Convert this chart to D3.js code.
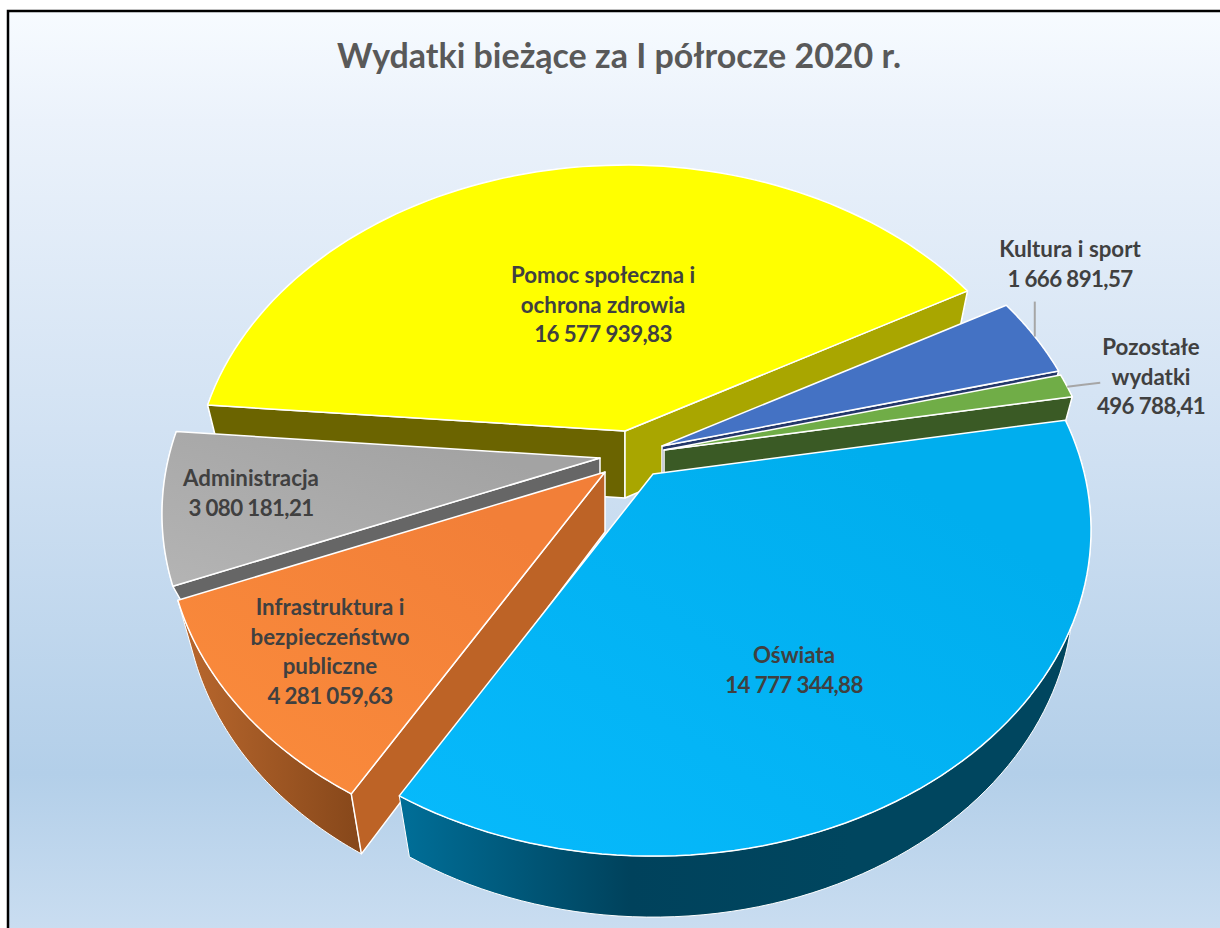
<!DOCTYPE html>
<html lang="pl">
<head>
<meta charset="utf-8">
<title>Wydatki bieżące za I półrocze 2020 r.</title>
<script src="https://cdn.jsdelivr.net/npm/d3@7"></script>
<style>
  html, body { margin: 0; padding: 0; background: #fff; }
  svg { display: block; }
  text { font-family: Lato, "Open Sans", sans-serif; font-weight: 700; text-anchor: middle; }
</style>
</head>
<body>
<svg id="chart" width="1220" height="928"></svg>
<script>
// Data, clockwise from the right-hand edge of "Oświata"
const categories = ["Oświata", "Infrastruktura i bezpieczeństwo publiczne", "Administracja",
    "Pomoc społeczna i ochrona zdrowia", "Kultura i sport", "Pozostałe wydatki"];
const values = [14777344.88, 4281059.63, 3080181.21, 16577939.83, 1666891.57, 496788.41];
const labelLines = [["Oświata"], ["Infrastruktura i", "bezpieczeństwo", "publiczne"], ["Administracja"],
    ["Pomoc społeczna i", "ochrona zdrowia"], ["Kultura i sport"], ["Pozostałe", "wydatki"]];

// Colours per slice: top face gradient, cut walls, outer wall gradient
const topColors = [["#07bafc", "#00aeee"], ["#fb8c3c", "#f27f38"], ["#b4b4b4", "#a3a3a3"],
    ["#ffff00", "#ffff00"], ["#4472c4", "#4472c4"], ["#70ad47", "#70ad47"]];
const startWallColors = ["#006a90", "#bd6326", "#666666", "#6b6400", "#2b4278", "#3a5a25"];
const endWallColors = ["#006a90", "#bd6326", "#666666", "#a9a600", "#24386a", "#3a5a25"];
const outerWallColors = [["#006d96", "#00425c", "#00465f", "#00465f"], ["#b5652c", "#86471a"], ["#666666", "#666666"],
    ["#6b6400", "#a9a600"], ["#2b4278", "#2b4278"], ["#3a5a25", "#3a5a25"]];

// Layout of the exploded pie: pull of each slice from the pie centre, its size and thickness
const pieCenter = { x: 628, y: 452 };
const pullX = [25, -23, -28, -3, 34, 36];
const pullY = [22, 20, 6, -21, -6, -2];
const sliceScale = [1, 1, 1, 0.985, 0.99, 0.99];
const sliceDepth = [61, 60, 30, 67, 60, 60];
const drawOrder = [3, 4, 5, 2, 1, 0]; // back to front
const labelX = [794, 330, 251, 603, 1070, 1151];
const labelY = [663, 615, 486, 283, 257, 355];
const lineHeight = 29.5;

// Perspective of the pie plane (apex at the origin, y down)
const persp = -0.172, scaleA = 431.5, scaleB = 316.4, bottomShrink = 0.96;
const startDeg = 79.9; // d3 angle of the first slice

const svg = d3.select("#chart");
const defs = svg.append("defs");
const formatValue = d3.formatLocale({ decimal: ",", thousands: " ", grouping: [3], currency: ["", ""] }).format(",.2f");

const bg = defs.append("linearGradient").attr("id", "bg").attr("x1", 0).attr("x2", 0).attr("y1", 0).attr("y2", 1);
bg.selectAll("stop").data([[0, "#f7fbff"], [0.12, "#ebf2fb"], [0.45, "#d2e2f3"], [0.82, "#b3cfe9"], [1, "#cbdef1"]])
    .join("stop").attr("offset", d => d[0]).attr("stop-color", d => d[1]);

const pie = d3.pie().sort(null)
    .startAngle(startDeg * Math.PI / 180)
    .endAngle((startDeg + 360) * Math.PI / 180);
const arcs = pie(values);
const line = d3.line();

/** Projects a rim point at d3 angle `a` of slice `i`; `low` moves it to the bottom face. */
function rim(i, a, low) {
    const X = Math.sin(a), Y = -Math.cos(a);
    const w = 1 + persp * Y, s = sliceScale[i];
    const px = pieCenter.x + pullX[i], py = pieCenter.y + pullY[i];
    const x = s * scaleA * X / w, y = s * scaleB * Y / w;
    return low ? [px + x * bottomShrink, py + sliceDepth[i] + y] : [px + x, py + y];
}
function apex(i, low) {
    return [pieCenter.x + pullX[i], pieCenter.y + pullY[i] + (low ? sliceDepth[i] : 0)];
}
function rimPoints(i, low) {
    const d = arcs[i], n = 80;
    return d3.range(n + 1).map(k => rim(i, d.startAngle + (d.endAngle - d.startAngle) * k / n, low));
}
function addStops(grad, colors) {
    grad.selectAll("stop").data(colors).join("stop")
        .attr("offset", (c, k) => k / (colors.length - 1)).attr("stop-color", c => c);
}

// Background and frame
svg.append("rect").attr("x", 8).attr("y", 11).attr("width", 1230).attr("height", 930)
    .attr("fill", "url(#bg)").attr("stroke", "#000").attr("stroke-width", 2.5);

// Title
svg.append("text").attr("x", 619).attr("y", 68).attr("fill", "#595959").attr("font-size", 34)
    .text("Wydatki bieżące za I półrocze 2020 r.");

// Slices
drawOrder.forEach(i => {
    const g = svg.append("g").attr("class", "slice").attr("data-name", categories[i]);
    const d = arcs[i];
    const outline = p => g.append("path").attr("d", line(p) + "Z")
        .attr("stroke", "#fff").attr("stroke-linejoin", "round");

    const pts = rimPoints(i, true);
    const xs = d3.extent(pts, p => p[0]);
    const wallGrad = defs.append("linearGradient").attr("id", "outer-" + i).attr("gradientUnits", "userSpaceOnUse")
        .attr("x1", xs[0]).attr("x2", xs[1]).attr("y1", 0).attr("y2", 0);
    addStops(wallGrad, outerWallColors[i]);
    const topGrad = defs.append("linearGradient").attr("id", "top-" + i)
        .attr("x1", 0).attr("y1", 1).attr("x2", 0.8).attr("y2", 0.2);
    addStops(topGrad, topColors[i]);

    outline(rimPoints(i, false).concat(pts.slice().reverse()))
        .attr("fill", `url(#outer-${i})`).attr("stroke-width", 1);

    // cut faces, only the ones that face the viewer
    const startTop = rim(i, d.startAngle, false), endTop = rim(i, d.endAngle, false);
    if (startTop[0] < apex(i)[0]) {
        outline([apex(i), startTop, rim(i, d.startAngle, true), apex(i, true)])
            .attr("fill", startWallColors[i]).attr("stroke-width", 1.5);
    }
    if (endTop[0] > apex(i)[0]) {
        outline([apex(i), endTop, rim(i, d.endAngle, true), apex(i, true)])
            .attr("fill", endWallColors[i]).attr("stroke-width", 1.5);
    }

    outline([apex(i)].concat(rimPoints(i, false))).attr("fill", `url(#top-${i})`).attr("stroke-width", 1.5);
});

// Leader lines of the two outside labels
[[4, 0.5, [[0, -35]]], [5, 0.55, [[16, -2], [33, -4]]]].forEach(([i, t, steps]) => {
    const d = arcs[i];
    const p = rim(i, d.startAngle + (d.endAngle - d.startAngle) * t, false);
    svg.append("path").attr("fill", "none").attr("stroke", "#a6a6a6").attr("stroke-width", 2)
        .attr("d", line([p].concat(steps.map(s => [p[0] + s[0], p[1] + s[1]]))));
});

// Labels
categories.forEach((c, i) => {
    const t = svg.append("text").attr("fill", "#404040").attr("font-size", 22.3);
    labelLines[i].forEach((s, k) => {
        t.append("tspan").attr("x", labelX[i]).attr("y", labelY[i] + k * lineHeight).text(s);
    });
    t.append("tspan").attr("x", labelX[i]).attr("y", labelY[i] + labelLines[i].length * lineHeight)
        .attr("letter-spacing", -0.6).text(formatValue(values[i]));
});
</script>
</body>
</html>
